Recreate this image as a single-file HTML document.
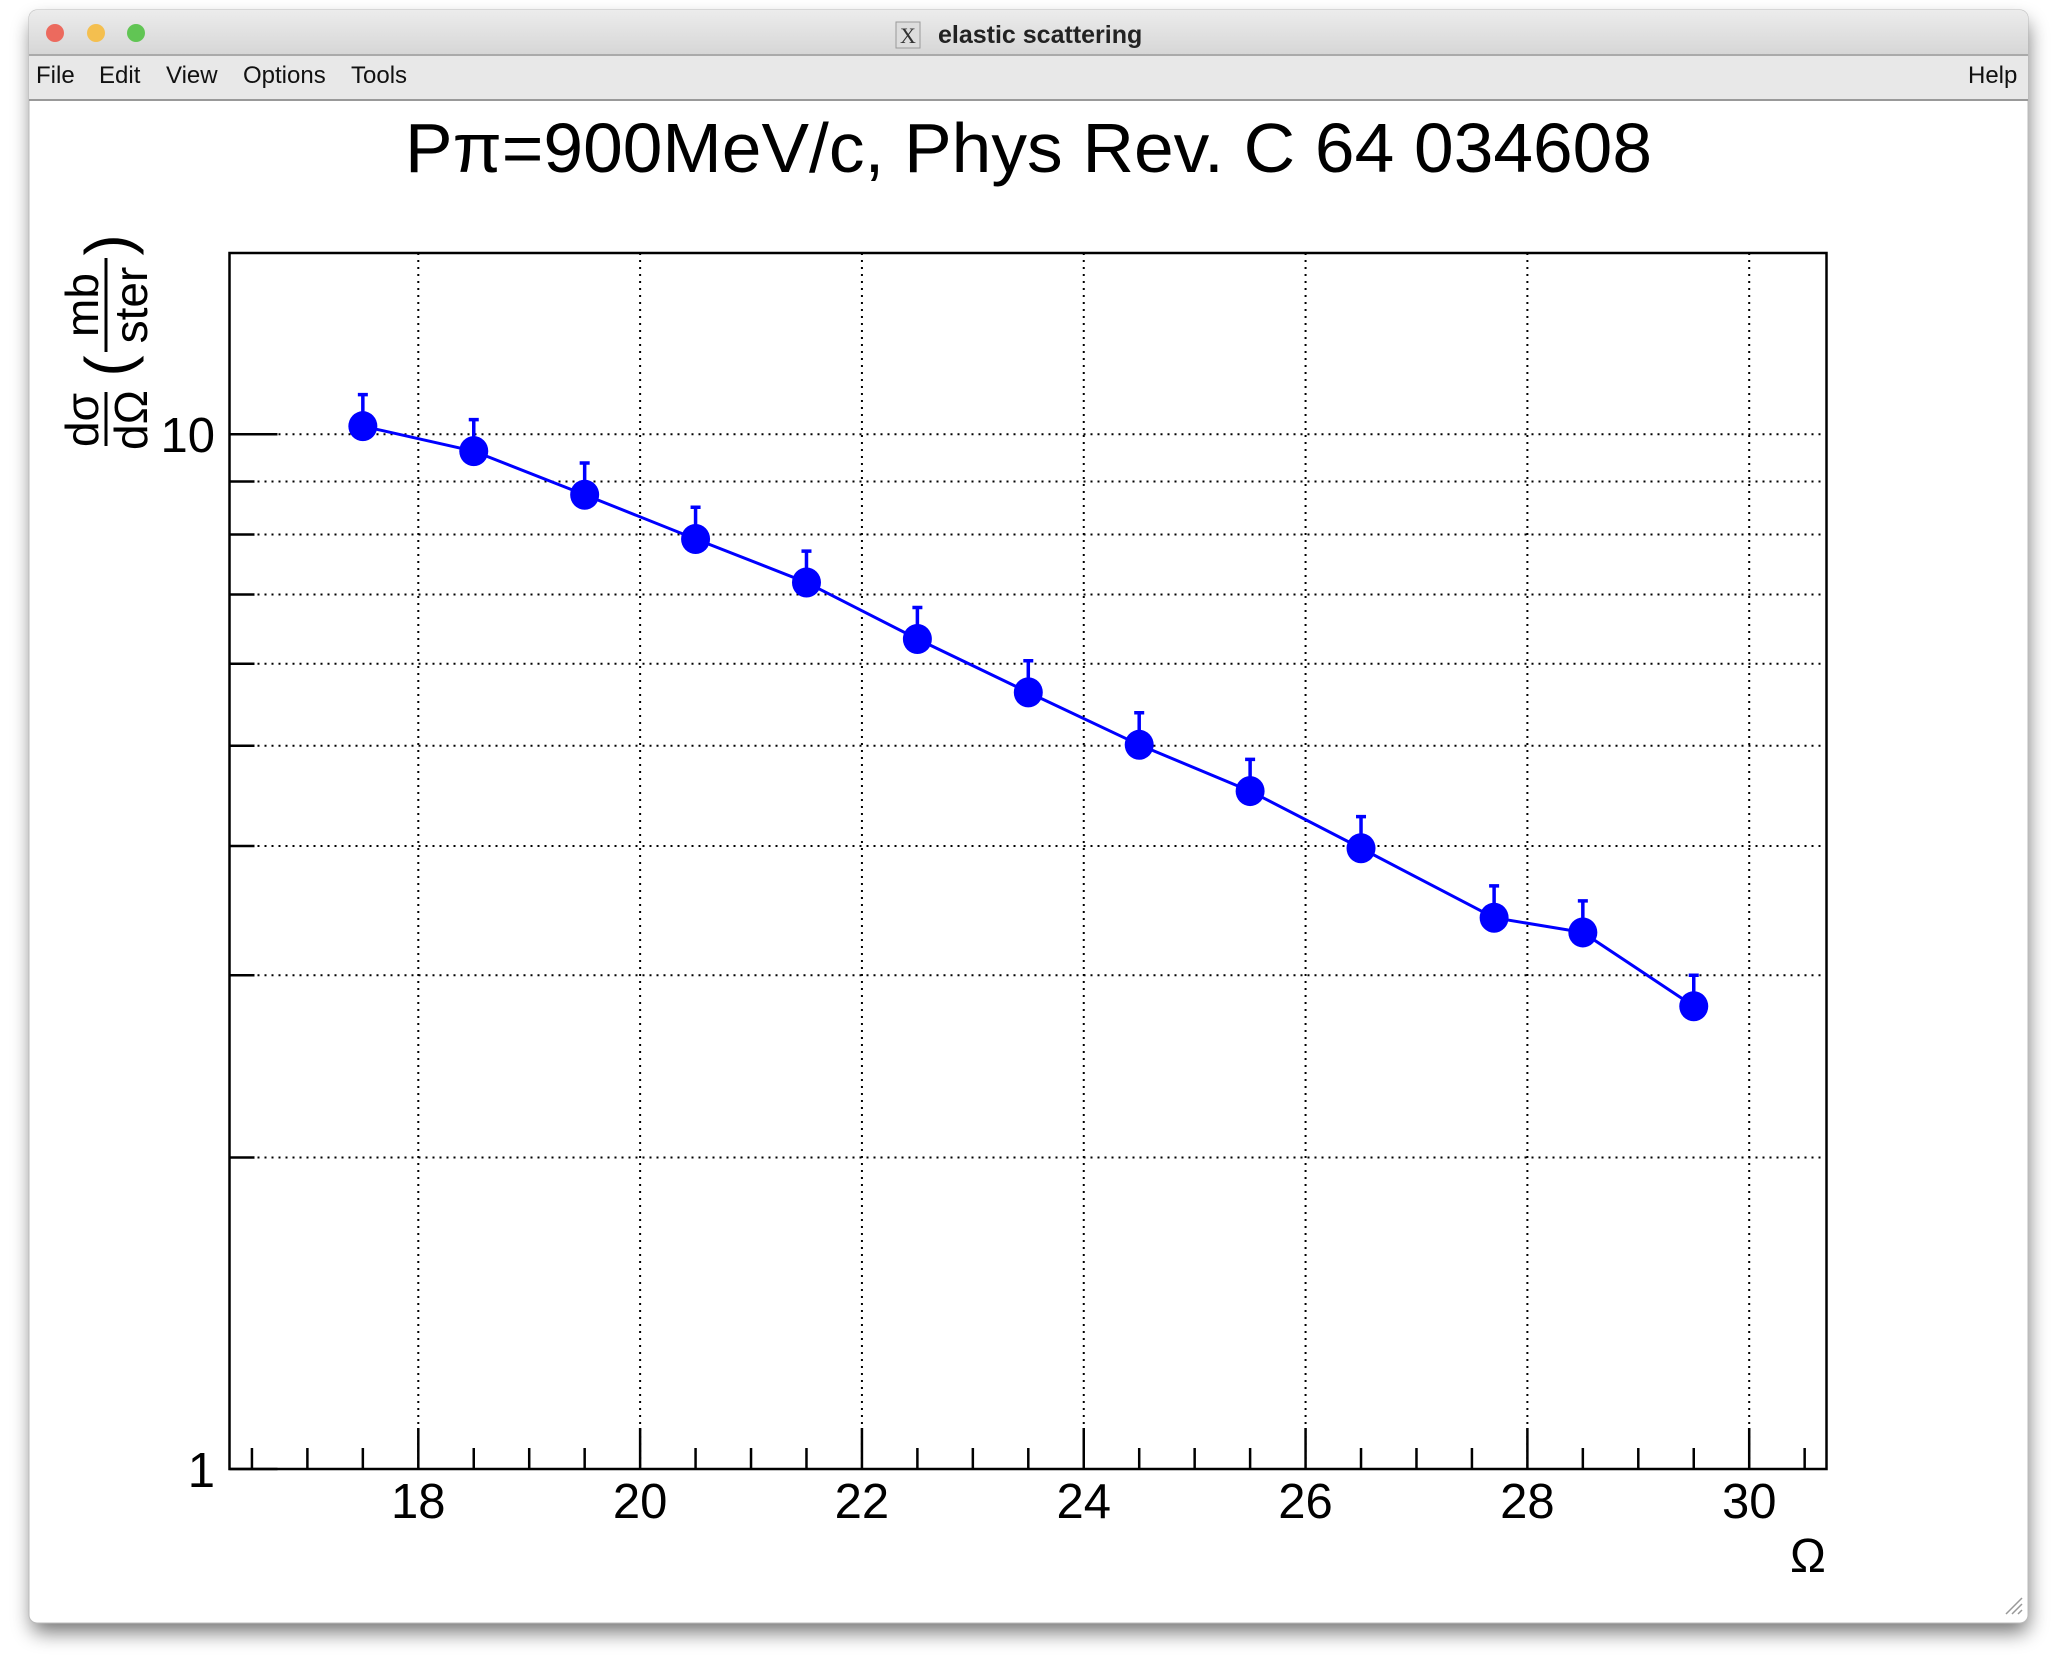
<!DOCTYPE html>
<html><head><meta charset="utf-8"><style>
html,body{margin:0;padding:0;background:#fff;width:2056px;height:1666px;overflow:hidden;font-family:"Liberation Sans",sans-serif}
</style></head><body>
<svg width="2056" height="1666" viewBox="0 0 2056 1666" xmlns="http://www.w3.org/2000/svg">
<defs>
<filter id="sh" x="-5%" y="-5%" width="110%" height="115%"><feGaussianBlur stdDeviation="10"/></filter>
<linearGradient id="tb" x1="0" y1="0" x2="0" y2="1"><stop offset="0" stop-color="#ececec"/><stop offset="1" stop-color="#d6d6d6"/></linearGradient>
</defs>
<rect x="32" y="22" width="1996" height="1610" rx="8" fill="#000" opacity="0.55" filter="url(#sh)"/>
<rect x="29" y="10" width="1999" height="1613" rx="8" fill="#fff" stroke="#bbb"/>
<path d="M29 55 V18 a8 8 0 0 1 8 -8 H2020 a8 8 0 0 1 8 8 V55 Z" fill="url(#tb)"/>
<line x1="29" y1="55" x2="2028" y2="55" stroke="#aaa" stroke-width="2"/>
<circle cx="55" cy="33" r="9" fill="#ec6a5e"/>
<circle cx="96" cy="33" r="9" fill="#f4bf4f"/>
<circle cx="136" cy="33" r="9" fill="#61c554"/>
<rect x="896" y="22" width="24" height="26" fill="#ddd" stroke="#999"/>
<text x="908" y="43" font-size="22" text-anchor="middle" font-family="Liberation Serif,serif" fill="#333">X</text>
<text x="938" y="43" font-size="25" font-weight="bold" fill="#222">elastic scattering</text>
<rect x="29" y="56" width="1999" height="44" fill="#e8e8e8"/>
<line x1="29" y1="100" x2="2028" y2="100" stroke="#999" stroke-width="2"/>
<g font-size="24" fill="#111">
<text x="36" y="83">File</text>
<text x="99" y="83">Edit</text>
<text x="166" y="83">View</text>
<text x="243" y="83">Options</text>
<text x="351" y="83">Tools</text>
<text x="1968" y="83">Help</text>
</g>
<text x="405" y="172" font-size="70" textLength="1247" lengthAdjust="spacingAndGlyphs" fill="#000">Pπ=900MeV/c, Phys Rev. C 64 034608</text>
<g id="plot"></g>
<g transform="rotate(-90)" fill="#000">
<text x="-420" y="98" font-size="46" text-anchor="middle">dσ</text>
<line x1="-446" y1="106" x2="-392" y2="106" stroke="#000" stroke-width="3"/>
<text x="-420" y="147" font-size="46" text-anchor="middle">dΩ</text>
<text x="-366" y="130" font-size="64" text-anchor="middle" font-weight="100">(</text>
<text x="-305" y="98" font-size="46" text-anchor="middle">mb</text>
<line x1="-352" y1="106" x2="-258" y2="106" stroke="#000" stroke-width="3"/>
<text x="-305" y="147" font-size="46" text-anchor="middle">ster</text>
<text x="-245" y="130" font-size="64" text-anchor="middle">)</text>
</g>
<text x="1808" y="1572" font-size="48" text-anchor="middle">Ω</text>
<path d="M2006 1614 L2022 1598 M2012 1614 L2022 1604 M2018 1614 L2022 1610" stroke="#999" stroke-width="1.5"/>
</svg>
<script>
const xValues=[17.5,18.5,19.5,20.5,21.5,22.5,23.5,24.5,25.5,26.5,27.7,28.5,29.5];
const yValues=[10.18,9.63,8.74,7.92,7.19,6.34,5.63,5.01,4.52,3.98,3.41,3.30,2.80];
const yErrUp=[0.74,0.70,0.64,0.58,0.52,0.46,0.41,0.37,0.33,0.29,0.25,0.24,0.20];
const xTickLabels=[18,20,22,24,26,28,30];
const yTickLabels=[1,10];
const yMinorTicks=[2,3,4,5,6,7,8,9];

const L=229.5,R=1826.5,T=253,B=1469;
const xMin=16.3,xMax=30.7,yMin=1,yMax=15;
const X=v=>418.3+(v-18)*(1749.2-418.3)/12;
const Y=v=>B-Math.log10(v)*(B-434.2);
const NS='http://www.w3.org/2000/svg';
const g=document.getElementById('plot');
function mk(t,a,p){const e=document.createElementNS(NS,t);for(const k in a)e.setAttribute(k,a[k]);(p||g).appendChild(e);return e;}

// grid
for(let v=18;v<=30;v+=2){const e=mk('line',{x1:X(v),x2:X(v),y1:T,y2:B,stroke:'#000','stroke-width':2,'stroke-dasharray':'2 5'});

}
for(const v of yMinorTicks.concat([10])){const e=mk('line',{x1:L,x2:R,y1:Y(v),y2:Y(v),stroke:'#000','stroke-width':2,'stroke-dasharray':'2 5'});

}
// frame
const fr=mk('rect',{x:L,y:T,width:R-L,height:B-T,fill:'none',stroke:'#000','stroke-width':2.5});


// x ticks
for(let i=0;;i++){const v=16.5+i*0.5;if(v>xMax)break;const major=Math.abs(v/2-Math.round(v/2))<1e-6;
const e=mk('line',{x1:X(v),x2:X(v),y1:B,y2:B-(major?41:21),stroke:'#000','stroke-width':2.5});

}
for(const v of xTickLabels){const t=mk('text',{x:X(v),y:1518,'font-size':49,'text-anchor':'middle'});t.textContent=v;

}
// y ticks
for(const v of yMinorTicks){const e=mk('line',{x1:L,x2:L+25,y1:Y(v),y2:Y(v),stroke:'#000','stroke-width':2.5});

}
for(const v of yTickLabels){const e=mk('line',{x1:L,x2:L+48,y1:Y(v),y2:Y(v),stroke:'#000','stroke-width':2.5});


const t=mk('text',{x:215,y:Y(v)+18,'font-size':49,'text-anchor':'end'});t.textContent=v;

}
// line
const pts=xValues.map((x,i)=>X(x)+','+Y(yValues[i])).join(' ');
const pl=mk('polyline',{points:pts,fill:'none',stroke:'#0000ff','stroke-width':3});


xValues.forEach((x,i)=>{
const cx=X(x),cy=Y(yValues[i]),ty=Y(yValues[i]+yErrUp[i]);
const eb=mk('path',{d:`M${cx} ${cy} V${ty} M${cx-5} ${ty} H${cx+5}`,stroke:'#0000ff','stroke-width':3.5,fill:'none'});


const m=mk('ellipse',{cx:cx,cy:cy,rx:14.5,ry:15,fill:'#0000ff'});


});
</script>
</body></html>
